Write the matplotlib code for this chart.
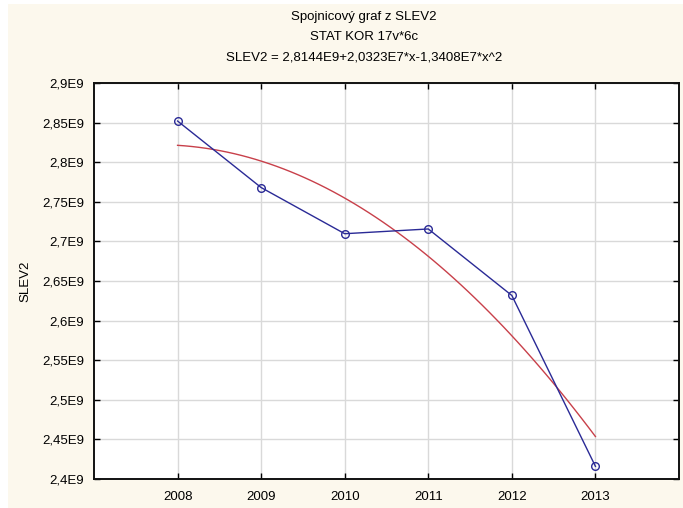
import numpy as np
import matplotlib.pyplot as plt
from matplotlib.ticker import FixedLocator, FixedFormatter
from matplotlib.patches import Rectangle

years = [2008, 2009, 2010, 2011, 2012, 2013]
slev2 = [2.852e9, 2.768e9, 2.7097e9, 2.7157e9, 2.6317e9, 2.416e9]

# coefficients of the quadratic fit (x = 1..6)
b0 = 2.8144e9
b1 = 2.0323e7
b2 = -1.3408e7

ytick_vals = [2.40e9, 2.45e9, 2.50e9, 2.55e9, 2.60e9, 2.65e9, 2.70e9, 2.75e9, 2.80e9, 2.85e9, 2.90e9]
ytick_labels = ['2,4E9', '2,45E9', '2,5E9', '2,55E9', '2,6E9', '2,65E9',
                '2,7E9', '2,75E9', '2,8E9', '2,85E9', '2,9E9']

title_lines = ['Spojnicový graf z SLEV2',
               'STAT KOR 17v*6c',
               'SLEV2 = 2,8144E9+2,0323E7*x-1,3408E7*x^2']

plt.rcParams['font.family'] = ['Liberation Sans', 'DejaVu Sans']

bg = '#fcf8ed'
fig = plt.figure(figsize=(6.83, 5.08), dpi=100, facecolor='white')
# cream panel, leaving a thin white edge on the left and top
fig.patches.append(Rectangle((8/683, 0), 1, 1 - 4/508, transform=fig.transFigure,
                             facecolor=bg, edgecolor='none', zorder=-10))

ax = fig.add_axes([94/683, 1 - 479/508, (679 - 94)/683, (479 - 83)/508])
ax.set_facecolor('white')

# fitted curve
xs = np.linspace(1, 6, 60)
fit = b0 + b1*xs + b2*xs**2
ax.plot(xs + 2007, fit, color='#c8404a', lw=1.0, zorder=3)

# observed values
ax.plot(years, slev2, color='#2a2a96', lw=1.0, marker='o', markersize=5.5,
        markerfacecolor='none', markeredgecolor='#2a2a96', markeredgewidth=1.0, zorder=4)

ax.set_xlim(2007, 2014)
ax.set_ylim(2.4e9, 2.9e9)
ax.xaxis.set_major_locator(FixedLocator(years))
ax.xaxis.set_major_formatter(FixedFormatter([str(y) for y in years]))
ax.yaxis.set_major_locator(FixedLocator(ytick_vals))
ax.yaxis.set_major_formatter(FixedFormatter(ytick_labels))

ax.grid(True, color='#d9d9d9', lw=1.0)
ax.set_axisbelow(True)
ax.tick_params(direction='in', length=4, width=1, top=True, right=True,
               labelsize=9.5, colors='black')
ax.tick_params(axis='x', pad=9)
ax.tick_params(axis='y', pad=7)
for s in ax.spines.values():
    s.set_linewidth(1.4)
    s.set_color('#111111')

ax.set_ylabel('SLEV2', fontsize=9.5, labelpad=8)

for i, line in enumerate(title_lines):
    fig.text(364/683, 1 - (17 + 20.5*i)/508, line, ha='center', va='center', fontsize=9.5)

fig.savefig('out.png', dpi=100, facecolor='white')
